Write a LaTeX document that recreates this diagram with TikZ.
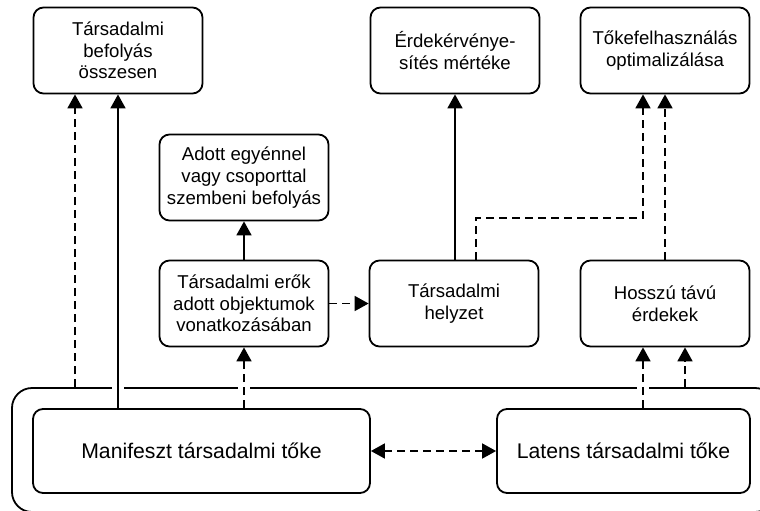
\documentclass[tikz,border=0pt]{standalone}
\usepackage{fontspec}
\setmainfont{Liberation Sans}
\usetikzlibrary{arrows.meta,calc}

\begin{document}
\begin{tikzpicture}[
    x=1pt, y=-1pt,
    box/.style={
        rectangle, rounded corners=10pt,
        minimum width=169pt,
        minimum height=86pt,
        draw=black, line width=1.8pt,
        align=center, inner sep=2pt,
        font=\fontsize{18.6}{21.7}\selectfont
    },
    bigbox/.style={box, minimum height=84pt, font=\fontsize{21.2}{25}\selectfont},
    arrow/.style={-{Triangle[width=15pt,length=14pt]}, line width=1.8pt}, % teli háromszög hegy
    dasharrow/.style={arrow, dash pattern=on 8pt off 5pt},
    bothdash/.style={dasharrow, {Triangle[width=15pt,length=14pt]}-{Triangle[width=15pt,length=14pt]}}
]
\fill[white] (0,0) rectangle (760,511);
\useasboundingbox (0,0) rectangle (760,511);

% --- KERET: a két tőke körül ---
\node[draw, line width=1.8pt, rounded corners=20pt, minimum width=763pt, minimum height=124pt, inner sep=0pt] (frame) at (393.5,450) {};

% --- FELSŐ SOR ---
\node[box] (bef) at (118,50.5) {Társadalmi\\befolyás\\összesen};
\node[box] (erdek) at (455,50.5) {Érdekérvénye-\\sítés mértéke};
\node[box] (toke) at (665,50.5) {Tőkefelhasználás\\optimalizálása};

% --- KÖZÉPSŐ SOROK ---
\node[box] (adott) at (244,177.5) {Adott egyénnel\\vagy csoporttal\\szembeni befolyás};
\node[box] (erok) at (244,303.5) {Társadalmi erők\\adott objektumok\\vonatkozásában};
\node[box] (helyzet) at (454,303.5) {Társadalmi\\helyzet};
\node[box] (hosszu) at (665,303.5) {Hosszú távú\\érdekek};

% --- ALSÓ SOR: a tőke két formája ---
\node[bigbox, minimum width=337pt] (mani) at (201.5,451) {Manifeszt társadalmi tőke};
\node[bigbox, minimum width=253pt] (latens) at (623.5,451) {Latens társadalmi tőke};

% segédpontok a nyilakhoz
\coordinate (bl) at ([xshift=-43pt]bef.south);
\coordinate (hl) at ([xshift=-22pt]hosszu.south);
\coordinate (hr) at ([xshift=20pt]hosszu.south);
\coordinate (hx) at ([xshift=22pt]helyzet.north);
\coordinate (tl) at ([xshift=-22pt]toke.south);

% rések a keret felső vonalában
\foreach \g in {bef.south, erok.south, hl}
    \fill[white] ($(\g |- frame.north)+(-6,-4)$) rectangle ($(\g |- frame.north)+(6,4)$);

% --- NYILAK ---
% 1. Keret -> Társadalmi befolyás
\draw[dasharrow] (bl |- frame.north) -- (bl);

% 2. Manifeszt -> Társadalmi befolyás
\draw[arrow] (bef.south |- mani.north) -- (bef.south);

% 3. Manifeszt -> Társadalmi erők
\draw[dasharrow] (erok.south |- mani.north) -- (erok.south);

% 4. Társadalmi erők -> Adott egyénnel
\draw[arrow] (erok.north) -- (adott.south);

% 5. Társadalmi erők -> Társadalmi helyzet
\draw[dasharrow] (erok.east) -- (helyzet.west);

% 6. Helyzet -> Érdekérvényesítés
\draw[arrow] (erdek.south |- helyzet.north) -- (erdek.south);

% 7. Helyzet -> Tőkefelhasználás (megtörve)
\draw[dasharrow] (hx) -- ++(0,-42) -| (tl);

% 8. Hosszú távú érdekek -> Tőkefelhasználás
\draw[dasharrow] (hosszu.north) -- (toke.south);

% 9. Latens -> Hosszú távú érdekek
\draw[dasharrow] (hl |- latens.north) -- (hl);

% 10. Keret -> Hosszú távú érdekek
\draw[dasharrow] (hr |- frame.north) -- (hr);

% 11. Manifeszt <-> Latens
\draw[bothdash] (mani.east) -- (latens.west);

\end{tikzpicture}
\end{document}
